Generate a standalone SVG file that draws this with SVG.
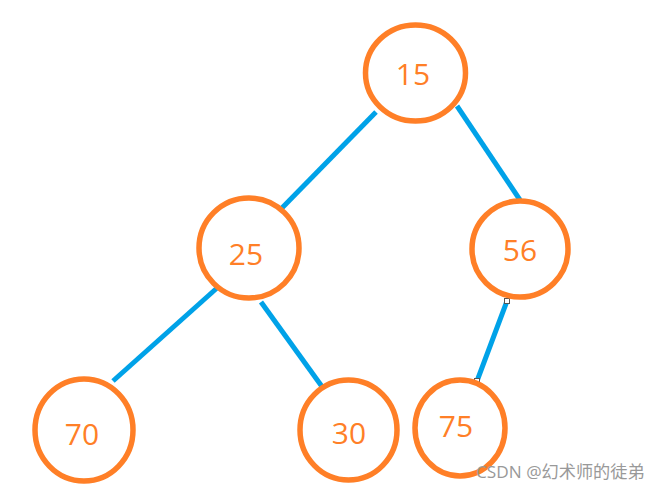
<svg xmlns="http://www.w3.org/2000/svg" width="663" height="490" viewBox="0 0 663 490">
<style>
.node{fill:none;stroke:#FF7F27;stroke-width:5.5}
.lbl{font-family:"Open Sans","Noto Sans",sans-serif;font-size:30px;fill:#FF7F27;text-anchor:middle}
.edge{stroke:#00A2E8;stroke-width:5;stroke-linecap:butt}
.wm{font-family:"Open Sans","Noto Sans","Noto Sans CJK SC",sans-serif;font-size:17.2px;fill:#999}
</style>
<rect width="663" height="490" fill="#fff"/>
<g id="edges">
<line class="edge" x1="376" y1="112" x2="280" y2="210"/>
<line class="edge" x1="457" y1="106" x2="520" y2="200"/>
<line class="edge" x1="217" y1="288" x2="113" y2="381"/>
<line class="edge" x1="261" y1="302" x2="323" y2="388"/>
<line class="edge" x1="507" y1="301" x2="477" y2="381"/>
<rect x="504.5" y="298.5" width="5" height="5" fill="#fff" stroke="#555" stroke-width="1"/>
<rect x="474.5" y="378.5" width="5" height="5" fill="#fff" stroke="#555" stroke-width="1"/>
</g>
<g id="n15"><ellipse class="node" cx="415.5" cy="73" rx="50" ry="48"/><text class="lbl" x="413" y="85">15</text></g>
<g id="n25"><ellipse class="node" cx="249" cy="248" rx="50" ry="50"/><text class="lbl" x="246" y="265">25</text></g>
<g id="n56"><ellipse class="node" cx="520" cy="249" rx="48" ry="48"/><text class="lbl" x="520" y="261">56</text></g>
<g id="n70"><ellipse class="node" cx="84" cy="430" rx="49" ry="51"/><text class="lbl" x="82" y="445">70</text></g>
<g id="n30"><ellipse class="node" cx="348.5" cy="430" rx="48.5" ry="50"/><text class="lbl" x="349" y="444">30</text></g>
<g id="n75"><ellipse class="node" cx="460" cy="428" rx="45" ry="48"/><text class="lbl" x="456" y="437">75</text></g>
<text class="wm" x="476" y="478">CSDN @幻术师的徒弟</text>
</svg>
